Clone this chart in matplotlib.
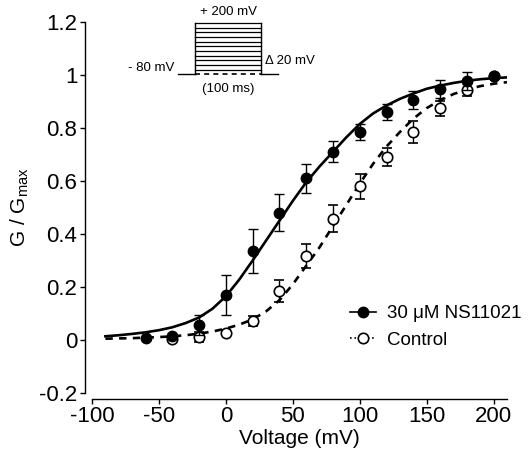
import matplotlib
matplotlib.use("Agg")
import matplotlib.pyplot as plt
import numpy as np

plt.rcParams['font.family'] = ['Liberation Sans', 'DejaVu Sans']
plt.rcParams['mathtext.fontset'] = 'custom'
plt.rcParams['mathtext.rm'] = 'Liberation Sans'
plt.rcParams['mathtext.it'] = 'Liberation Sans:italic'
plt.rcParams['axes.unicode_minus'] = False

# measured points (mean +/- sem)
volt_ns = [-60, -40, -20, 0, 20, 40, 60, 80, 100, 120, 140, 160, 180, 200]
g_ns = [0.007, 0.015, 0.056, 0.17, 0.335, 0.48, 0.61, 0.71, 0.785, 0.86, 0.906, 0.947, 0.977, 0.996]
err_ns = [0.005, 0.008, 0.038, 0.075, 0.083, 0.07, 0.054, 0.04, 0.03, 0.029, 0.034, 0.034, 0.035, 0.005]

volt_ctl = [-40, -20, 0, 20, 40, 60, 80, 100, 120, 140, 160, 180, 200]
g_ctl = [0.005, 0.012, 0.028, 0.072, 0.185, 0.317, 0.458, 0.58, 0.69, 0.785, 0.875, 0.945, 0.996]
err_ctl = [0.005, 0.02, 0.01, 0.02, 0.04, 0.047, 0.05, 0.047, 0.035, 0.04, 0.028, 0.025, 0.005]

# fitted curves, every 10 mV
volt_fit = list(range(-90, 211, 10))
fit_ns = [0.014, 0.018, 0.023, 0.029, 0.037, 0.048, 0.064, 0.085, 0.118, 0.165,
          0.228, 0.300, 0.375, 0.450, 0.525, 0.595, 0.655, 0.710, 0.765, 0.815,
          0.855, 0.885, 0.910, 0.930, 0.948, 0.960, 0.970, 0.978, 0.984, 0.988, 0.991]
fit_ctl = [0.005, 0.006, 0.007, 0.009, 0.011, 0.014, 0.018, 0.024, 0.032, 0.043,
           0.058, 0.078, 0.108, 0.150, 0.210, 0.280, 0.350, 0.430, 0.510, 0.590,
           0.665, 0.730, 0.785, 0.835, 0.875, 0.905, 0.928, 0.945, 0.958, 0.967, 0.973]

W, H = 529, 459
fig = plt.figure(figsize=(W / 100, H / 100), dpi=100)
ax = fig.add_axes([92 / W, 1 - 393 / H, 415 / W, 371 / H])

ax.plot(volt_fit, fit_ns, color='black', lw=1.9, zorder=2)
ax.plot(volt_fit, fit_ctl, color='black', lw=1.9, dashes=(2.8, 2.4), zorder=2)

ax.errorbar(volt_ctl, g_ctl, yerr=err_ctl, fmt='o', ms=7.5, mfc='white', mec='black',
            mew=1.2, ecolor='black', elinewidth=1.0, capsize=3.5, capthick=1.0, zorder=3)
ax.errorbar(volt_ns, g_ns, yerr=err_ns, fmt='o', ms=7.5, mfc='black', mec='black',
            ecolor='black', elinewidth=1.0, capsize=3.5, capthick=1.0, zorder=4)

ax.set_xlim(-100, 210)
ax.set_ylim(-0.2, 1.2)
ax.set_xticks([-100, -50, 0, 50, 100, 150, 200])
ax.set_yticks([-0.2, 0, 0.2, 0.4, 0.6, 0.8, 1, 1.2])
ax.set_yticklabels(['-0.2', '0', '0.2', '0.4', '0.6', '0.8', '1', '1.2'])
ax.spines['top'].set_visible(False)
ax.spines['right'].set_visible(False)
ax.spines['left'].set_position(('outward', 5))
ax.spines['bottom'].set_position(('outward', 4))
for s in ('left', 'bottom'):
    ax.spines[s].set_linewidth(1.0)
ax.tick_params(direction='out', length=3.5, width=1.0, labelsize=16, pad=2)
ax.set_xlabel('Voltage (mV)', fontsize=15, labelpad=1)
ax.set_ylabel(r'G / G$_{\mathrm{max}}$', fontsize=15, labelpad=6)

# legend
h1 = plt.Line2D([], [], color='black', lw=1.2, marker='o', ms=7.5, mfc='black', mec='black')
h2 = plt.Line2D([], [], color='black', lw=1.2, ls=':', marker='o', ms=7.5, mfc='white', mec='black', mew=1.2)
ax.legend([h1, h2], ['30 \u03bcM NS11021', 'Control'], loc='upper left',
          bbox_to_anchor=(0.59, 0.272), frameon=False, fontsize=13.5,
          handlelength=1.4, handletextpad=0.6, labelspacing=0.5, borderpad=0.2)

# protocol inset
ins = fig.add_axes([178 / W, 1 - 74 / H, 100 / W, 51 / H])
ins.set_xlim(-25, 125)
ins.set_ylim(-80, 200)
ins.axis('off')
ins.plot([-25, 0], [-80, -80], color='black', lw=1.0, clip_on=False)
ins.plot([100, 125], [-80, -80], color='black', lw=1.0, clip_on=False)
ins.plot([0, 0], [-80, 200], color='black', lw=1.0, clip_on=False)
ins.plot([100, 100], [-80, 200], color='black', lw=1.0, clip_on=False)
for lv in np.linspace(200, -57, 11):
    ins.plot([0, 100], [lv, lv], color='black', lw=0.9, clip_on=False)
ins.plot([0, 100], [-80, -80], color='black', lw=1.2, dashes=(3, 2.5), clip_on=False)
ins.text(51, 262, '+ 200 mV', ha='center', va='center', fontsize=9.5)
ins.text(105, -9, '\u0394 20 mV', ha='left', va='center', fontsize=9.5)
ins.text(50, -162, '(100 ms)', ha='center', va='center', fontsize=9.5)
ins.text(-31, -47, '- 80 mV', ha='right', va='center', fontsize=9.5)

fig.savefig('out.png', dpi=100)
